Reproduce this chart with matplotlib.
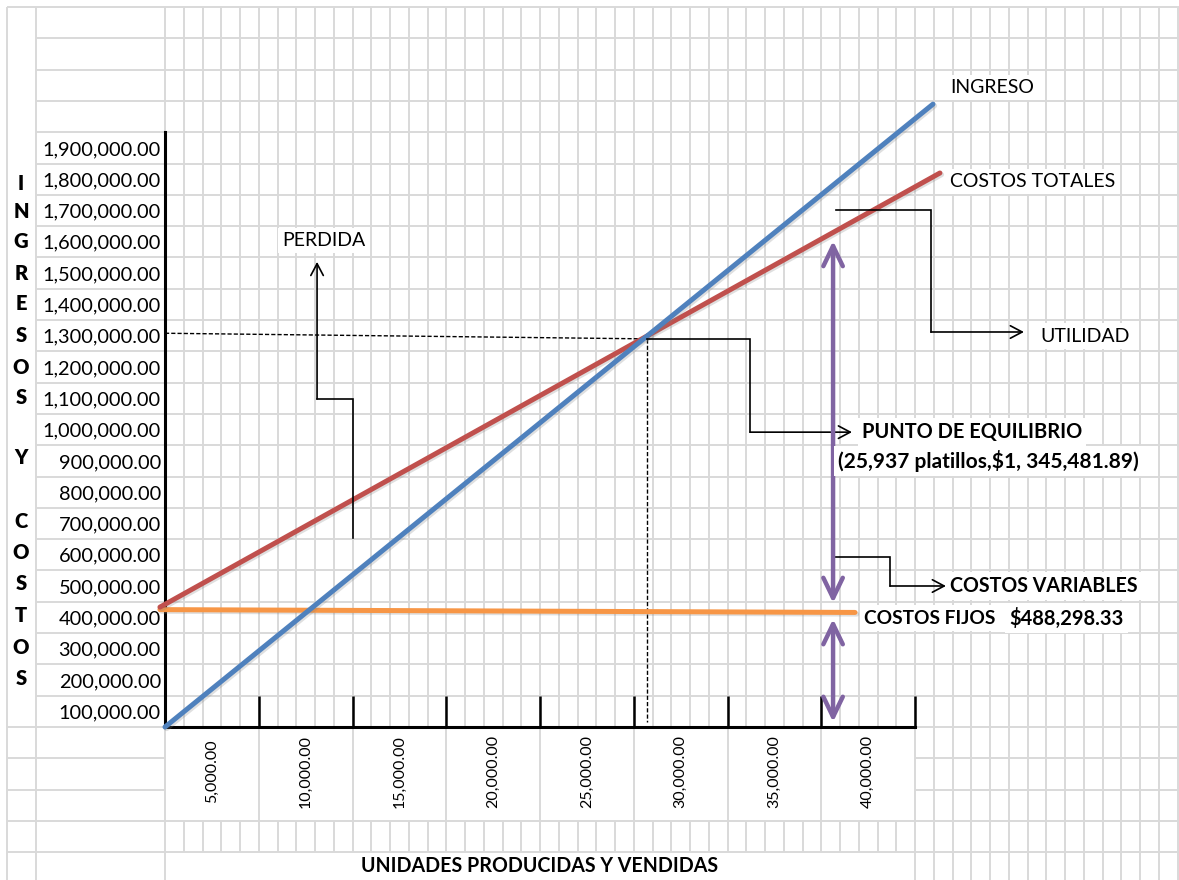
import numpy as np
import matplotlib
matplotlib.use("Agg")
import matplotlib.pyplot as plt
from matplotlib.collections import LineCollection
import matplotlib.patheffects as pe

# ---------------- data (chart units: units sold, pesos) ----------------
X_TICKS = [0, 5000, 10000, 15000, 20000, 25000, 30000, 35000, 40000]
X_LABEL_POS = [2500, 7500, 12500, 17500, 22500, 27500, 32500, 37500]
X_LABELS = ["5,000.00", "10,000.00", "15,000.00", "20,000.00",
            "25,000.00", "30,000.00", "35,000.00", "40,000.00"]
Y_TICKS = [100000 * k for k in range(1, 20)]
Y_LABELS = [f"{v:,.2f}" for v in Y_TICKS]

INGRESO_X = [0, 40960]
INGRESO_Y = [50000, 2040000]
COSTOS_TOT_X = [-270, 41330]
COSTOS_TOT_Y = [433000, 1820000]
COSTOS_FIJOS_X = [-270, 36800]
COSTOS_FIJOS_Y = [425000, 416000]

BE_H_X = [0, 25700]
BE_H_Y = [1308000, 1290000]
BE_V_X = [25700, 25700]
BE_V_Y = [1290000, 66000]

PERDIDA_PATH_X = [10030, 10030, 8110, 8110]
PERDIDA_PATH_Y = [654000, 1098000, 1098000, 1536000]
UTILIDAD_PATH_X = [35790, 40850, 40850, 45810]
UTILIDAD_PATH_Y = [1702000, 1702000, 1312000, 1312000]
PUNTO_PATH_X = [25700, 31200, 31200, 36640]
PUNTO_PATH_Y = [1290000, 1290000, 992000, 992000]
VARIABLES_PATH_X = [35630, 38670, 38670, 41650]
VARIABLES_PATH_Y = [593000, 593000, 500500, 500500]

UTIL_ARROW_X = 35630
UTIL_ARROW_Y = [446000, 1603000]   # costos variables span
FIJOS_ARROW_Y = [66000, 395000]    # costos fijos span

# ---------------- figure ----------------
W, H = 1179, 880
fig = plt.figure(figsize=(W / 100, H / 100), dpi=100)
FONT = ["Lato", "DejaVu Sans"]
plt.rcParams["font.family"] = FONT

# spreadsheet grid background (pixel space)
bg = fig.add_axes([0, 0, 1, 1], zorder=0)
bg.set_xlim(0, W)
bg.set_ylim(H, 0)
bg.axis("off")

ROW_H = 31.3
AX_Y = 727.0
COL_W = 18.75
AX_X = 165.0
AX_R = AX_X + 40 * COL_W
rows = [AX_Y - k * ROW_H for k in range(-5, 24)]
rows = [r for r in rows if r < H]
top = min(rows)
lbl_bottom = AX_Y + 3 * ROW_H
title_top = AX_Y + 4 * ROW_H

segs = []
for y in rows:
    if top + 1 < y < AX_Y - ROW_H + 1:          # merged letter column
        segs.append([(36, y), (W, y)])
    elif AX_Y + 1 < y < lbl_bottom - 1:          # merged x-label cells
        segs.append([(7, y), (AX_X, y)])
        segs.append([(AX_R, y), (W, y)])
    else:
        segs.append([(7, y), (W, y)])

segs.append([(7, top), (7, H)])
segs.append([(36, top), (36, H)])
for j in range(0, 56):
    x = AX_X + j * COL_W
    if x > W:
        break
    if j == 0 or j == 40 or x > AX_R:
        segs.append([(x, top), (x, H)])
    elif j % 5 == 0:
        segs.append([(x, top), (x, title_top)])
    else:
        segs.append([(x, top), (x, AX_Y)])
        segs.append([(x, lbl_bottom), (x, title_top)])
bg.add_collection(LineCollection(segs, colors="#d9d9d9", linewidths=1.4))

# ---------------- main chart ----------------
ax = fig.add_axes([AX_X / W, (H - AX_Y) / H, 40 * COL_W / W, 19 * ROW_H / H],
                  zorder=2)
ax.set_facecolor("none")
ax.set_xlim(0, 40000)
ax.set_ylim(50000, 1950000)
for s in ["top", "right"]:
    ax.spines[s].set_visible(False)
for s in ["left", "bottom"]:
    ax.spines[s].set_linewidth(2.2)
    ax.spines[s].set_color("black")

ax.set_yticks(Y_TICKS)
ax.set_yticklabels(Y_LABELS, fontsize=14.4)
ax.tick_params(axis="y", length=0, pad=3)

ax.set_xticks(X_TICKS)
ax.set_xticklabels([])
ax.tick_params(axis="x", which="major", direction="in",
               length=ROW_H * 0.72, width=1.8, color="black")
ax.set_xticks(X_LABEL_POS, minor=True)
ax.set_xticklabels(X_LABELS, minor=True, fontsize=11.5, rotation=90)
ax.tick_params(axis="x", which="minor", length=0, pad=32)
for t in ax.xaxis.get_minorticklabels():
    t.set_verticalalignment("center")

shadow = [pe.SimpleLineShadow(offset=(1.2, -1.2), alpha=0.25, shadow_color="gray"),
          pe.Normal()]
BLUE, RED, ORANGE, PURPLE = "#4F81BD", "#C0504D", "#F79646", "#8064A2"

ax.plot(COSTOS_FIJOS_X, COSTOS_FIJOS_Y, color=ORANGE, lw=3.6, clip_on=False,
        solid_capstyle="round", path_effects=shadow, zorder=3)
ax.plot(COSTOS_TOT_X, COSTOS_TOT_Y, color=RED, lw=3.6, clip_on=False,
        solid_capstyle="round", path_effects=shadow, zorder=4)
ax.plot(INGRESO_X, INGRESO_Y, color=BLUE, lw=3.6, clip_on=False,
        solid_capstyle="round", path_effects=shadow, zorder=5)

ax.plot(BE_H_X, BE_H_Y, color="black", lw=1.0, ls=(0, (3, 1.5)), zorder=2)
ax.plot(BE_V_X, BE_V_Y, color="black", lw=1.0, ls=(0, (3, 1.5)), zorder=2)


def connector(xs, ys):
    ax.plot(xs[:-1], ys[:-1], color="black", lw=1.2, clip_on=False, zorder=6,
            solid_joinstyle="miter")
    ax.annotate("", xy=(xs[-1], ys[-1]), xytext=(xs[-2], ys[-2]),
                annotation_clip=False,
                arrowprops=dict(arrowstyle="->,head_length=0.85,head_width=0.45",
                                lw=1.2, color="black", shrinkA=0, shrinkB=0,
                                mutation_scale=10), zorder=6)


connector(PERDIDA_PATH_X, PERDIDA_PATH_Y)
connector(UTILIDAD_PATH_X, UTILIDAD_PATH_Y)
connector(PUNTO_PATH_X, PUNTO_PATH_Y)
connector(VARIABLES_PATH_X, VARIABLES_PATH_Y)

for yy in (UTIL_ARROW_Y, FIJOS_ARROW_Y):
    ax.annotate("", xy=(UTIL_ARROW_X, yy[1]), xytext=(UTIL_ARROW_X, yy[0]),
                annotation_clip=False,
                arrowprops=dict(arrowstyle="<->,head_length=1.45,head_width=0.7",
                                lw=3.2, color=PURPLE, shrinkA=0, shrinkB=0,
                                mutation_scale=10, capstyle="round",
                                joinstyle="round"), zorder=7)

wbox = dict(facecolor="white", edgecolor="none", pad=3)
ax.text(41870, 2094000, "INGRESO", fontsize=14, va="center", ha="left", bbox=wbox)
ax.text(41870, 1794000, "COSTOS TOTALES", fontsize=14, va="center", ha="left", bbox=wbox)
ax.text(46670, 1299000, "UTILIDAD", fontsize=14, va="center", ha="left", bbox=wbox)
ax.text(6250, 1603000, "PERDIDA", fontsize=14, va="center", ha="left", bbox=wbox)
ax.text(37170, 992000, "PUNTO DE EQUILIBRIO", fontsize=14.4, fontweight="bold",
        va="center", ha="left", bbox=wbox, zorder=8)
ax.text(35890, 900000, "(25,937 platillos,$1, 345,481.89)", fontsize=15,
        fontweight="bold", va="center", ha="left", bbox=wbox, zorder=8)
ax.text(41870, 500500, "COSTOS VARIABLES", fontsize=14.1, fontweight="bold",
        va="center", ha="left", bbox=wbox, zorder=8)
ax.text(37280, 398000, "COSTOS FIJOS", fontsize=13.8, fontweight="bold",
        va="center", ha="left", bbox=wbox, zorder=8)
ax.text(45010, 398000, "$488,298.33", fontsize=14.5, fontweight="bold",
        va="center", ha="left", bbox=wbox, zorder=8)

# axis titles
fig.text(540 / W, 1 - 866 / H, "UNIDADES PRODUCIDAS Y VENDIDAS", fontsize=14.1,
         fontweight="bold", ha="center", va="center")
LETTERS = list("INGRESOS") + ["Y"] + list("COSTOS")
LETTER_Y = [183, 211, 242, 273, 304, 335, 367, 397, 457, 522, 552, 583, 615, 647, 678]
for ch, py in zip(LETTERS, LETTER_Y):
    fig.text(21 / W, 1 - py / H, ch, fontsize=14.5, fontweight="heavy",
             ha="center", va="center")

fig.savefig("out.png", dpi=100, facecolor="white")
